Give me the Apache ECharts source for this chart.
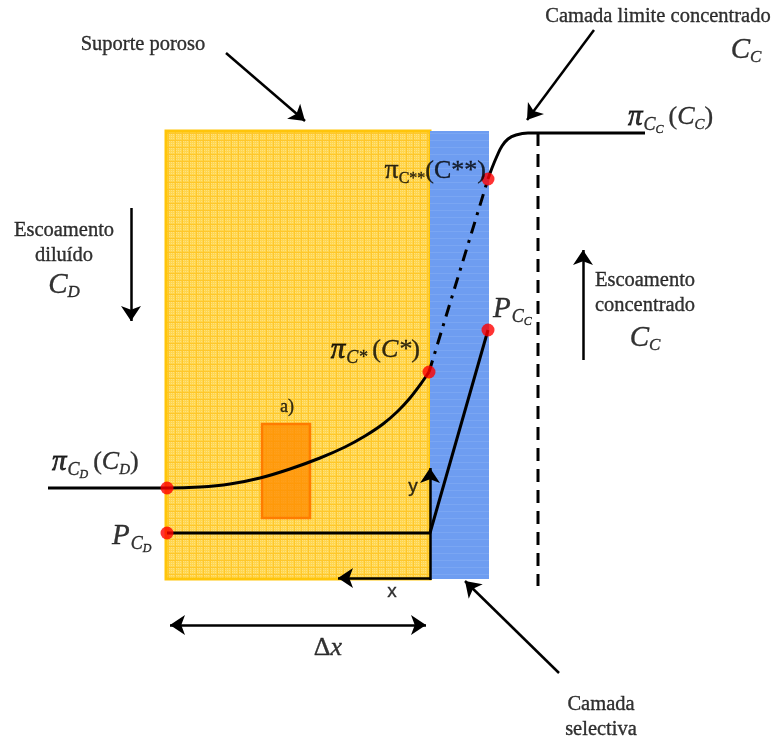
<!DOCTYPE html>
<html>
<head>
<meta charset="utf-8">
<script src="https://cdn.jsdelivr.net/npm/echarts@6/dist/echarts.min.js"></script>
<style>
  html, body { margin: 0; padding: 0; background: #ffffff; }
  #main { width: 782px; height: 742px; }
</style>
</head>
<body>
<div id="main"></div>
<script>
// Membrane layers, as [x0, y0, x1, y1] in drawing units
const supportLayer = [166, 131, 430, 579];
const selectiveLayer = [430, 131, 489, 579];
const elementA = [262, 424, 310, 518];

// Osmotic pressure on the dilute side and through the porous support
const dilutePressureProfile = [
  [48, 488], [167, 488], [200, 487], [230, 484], [260, 478], [290, 469],
  [320, 458], [345, 447], [365, 436], [383, 424], [398, 411], [410, 398],
  [420, 385], [429, 372]
];
// Across the selective layer
const selectiveDrop = [[429, 372], [488, 179]];
// Concentration boundary layer and bulk concentrate
const concentratePressureProfile = [
  [488, 179], [492, 168], [497, 156], [502, 146], [508, 139], [516, 135],
  [528, 133], [540, 133], [645, 133]
];
// Hydraulic pressure
const hydraulicProfile = [[167, 533], [430, 533], [488, 330]];
// Marked states
const statePoints = [[167, 488], [167, 533], [429, 372], [488, 179], [488, 330]];
// Edge of the boundary layer
const boundaryLayerEdge = [[538, 133], [538, 586]];

// Pointer and flow arrows
const arrows = [
  [[226, 53], [305, 121]],
  [[594, 30], [527, 120]],
  [[131, 208], [131, 321]],
  [[583, 360], [583, 250]],
  [[430, 580], [430, 468]],
  [[430, 578], [338, 578]],
  [[559, 673], [465, 581]]
];
const deltaX = [[170, 625], [426, 625]];

// Text labels: [x, y, text, align]
const labels = [
  [143, 45, '{t|Suporte poroso}', 'center'],
  [658, 17, '{t|Camada limite concentrado}', 'center'],
  [746, 50, '{ib|C}{isb|C}', 'center'],
  [628, 117, '{pi|π}{isa|C}{issa|C}{pl|(}{i|C}{is|C}{p|)}', 'left'],
  [486, 171, '{pu|π}{us|C**}{p|(C**)}', 'right'],
  [64, 243, '{t|Escoamento\ndiluído}', 'center'],
  [64, 285, '{ib|C}{isb|D}', 'center'],
  [493, 309, '{ib|P}{isa|C}{issa|C}', 'left'],
  [645, 293, '{t|Escoamento\nconcentrado}', 'center'],
  [645, 338, '{ib|C}{isb|C}', 'center'],
  [420, 350, '{pi|π}{isa|C*}{pl|(}{i|C*}{p|)}', 'right'],
  [287, 407, '{a|a)}', 'center'],
  [52, 462, '{pi|π}{isa|C}{issa|D}{pl|(}{i|C}{is|D}{p|)}', 'left'],
  [112, 536, '{ib|P}{isa|C}{issa|D}', 'left'],
  [413, 487, '{s|y}', 'center'],
  [392, 592, '{s|x}', 'center'],
  [328, 648, '{p|Δ}{i|x}', 'center'],
  [601, 717, '{t|Camada\nselectiva}', 'center']
];

const SERIF = 'Liberation Serif';
const INK = '#000000';
// Shared ink settings give the glyphs a slightly heavier stroke
function ink(style) {
  return Object.assign({ color: INK, textBorderColor: INK, textBorderWidth: 0.35 }, style);
}
const richStyles = {
  t: ink({ fontFamily: SERIF, fontSize: 20.5, lineHeight: 25 }),
  a: ink({ fontFamily: SERIF, fontSize: 18 }),
  s: ink({ fontFamily: 'Liberation Sans', fontSize: 19 }),
  pi: ink({ fontFamily: SERIF, fontStyle: 'italic', fontSize: 29, textBorderWidth: 0.8 }),
  pu: ink({ fontFamily: SERIF, fontSize: 28 }),
  p: ink({ fontFamily: SERIF, fontSize: 26 }),
  pl: ink({ fontFamily: SERIF, fontSize: 26, padding: [0, 0, 0, 5] }),
  i: ink({ fontFamily: SERIF, fontStyle: 'italic', fontSize: 26 }),
  ib: ink({ fontFamily: SERIF, fontStyle: 'italic', fontSize: 29 }),
  isa: ink({ fontFamily: SERIF, fontStyle: 'italic', fontSize: 18, padding: [16, 0, 0, 1] }),
  issa: ink({ fontFamily: SERIF, fontStyle: 'italic', fontSize: 12, padding: [26, 0, 0, 0] }),
  is: ink({ fontFamily: SERIF, fontStyle: 'italic', fontSize: 15, padding: [16, 0, 0, 0] }),
  isb: ink({ fontFamily: SERIF, fontStyle: 'italic', fontSize: 17, padding: [16, 0, 0, 0] }),
  us: ink({ fontFamily: SERIF, fontSize: 16, padding: [16, 0, 0, 0] })
};

// Fine grid textures for the two layers
function gridTexture(base, line, speck) {
  const c = document.createElement('canvas');
  c.width = 7; c.height = 7;
  const g = c.getContext('2d');
  g.fillStyle = base; g.fillRect(0, 0, 7, 7);
  if (speck) {
    g.fillStyle = speck;
    for (let i = 1; i < 7; i += 2) for (let j = 1; j < 7; j += 2) g.fillRect(i, j, 1, 1);
  }
  g.fillStyle = line;
  g.fillRect(0, 0, 7, 1);
  if (speck) g.fillRect(0, 0, 1, 7);
  return c;
}
const yellowTex = gridTexture('#FFD64F', '#FFC72A', '#FFE17F');
const blueTex = gridTexture('#6E9DF1', '#7AA6F3', null);

function rectSeries(rect, fill, stroke, lineWidth, z) {
  return {
    type: 'custom',
    z: z,
    silent: true,
    data: [rect],
    renderItem: function (params, api) {
      const p0 = api.coord([api.value(0), api.value(1)]);
      const p1 = api.coord([api.value(2), api.value(3)]);
      return {
        type: 'rect',
        shape: { x: p0[0], y: p0[1], width: p1[0] - p0[0], height: p1[1] - p0[1] },
        style: { fill: fill, stroke: stroke, lineWidth: lineWidth }
      };
    }
  };
}

function curve(data, opts) {
  return Object.assign({
    type: 'line',
    data: data,
    showSymbol: false,
    symbol: 'none',
    silent: true,
    z: 5,
    lineStyle: { color: INK, width: 3 }
  }, opts || {});
}

const chart = echarts.init(document.getElementById('main'), null, { renderer: 'canvas' });

chart.setOption({
  animation: false,
  backgroundColor: '#ffffff',
  grid: { left: 0, top: 0, right: 0, bottom: 0 },
  xAxis: { type: 'value', min: 0, max: 782, show: false },
  yAxis: { type: 'value', min: 0, max: 742, inverse: true, show: false },
  series: [
    rectSeries(supportLayer, { image: yellowTex, repeat: 'repeat' }, '#FFC50A', 3, 1),
    rectSeries(selectiveLayer, { image: blueTex, repeat: 'repeat' }, null, 0, 1),
    rectSeries(elementA, 'rgba(255,140,0,0.78)', '#FF7C00', 2.5, 2),
    curve(dilutePressureProfile, { smooth: 0.35 }),
    curve(selectiveDrop, { lineStyle: { color: INK, width: 3, type: [12, 7, 3, 7] } }),
    curve(concentratePressureProfile, { smooth: 0.4 }),
    curve(hydraulicProfile),
    curve(boundaryLayerEdge, { lineStyle: { color: INK, width: 3, type: [13, 8] } }),
    {
      type: 'lines',
      coordinateSystem: 'cartesian2d',
      silent: true,
      z: 6,
      symbol: ['none', 'arrow'],
      symbolSize: 15,
      lineStyle: { color: INK, width: 2.5, opacity: 1, curveness: 0 },
      data: arrows.map(a => ({ coords: a }))
    },
    {
      type: 'lines',
      coordinateSystem: 'cartesian2d',
      silent: true,
      z: 6,
      symbol: ['arrow', 'arrow'],
      symbolSize: 15,
      lineStyle: { color: INK, width: 2.5, opacity: 1, curveness: 0 },
      data: [{ coords: deltaX }]
    },
    {
      type: 'scatter',
      silent: true,
      z: 8,
      symbol: 'circle',
      symbolSize: 13,
      itemStyle: { color: '#FF0000' },
      data: statePoints
    },
    {
      type: 'scatter',
      silent: true,
      z: 9,
      symbolSize: 0,
      data: labels.map(l => ({
        value: [l[0], l[1]],
        label: {
          show: true,
          position: 'inside',
          align: l[3],
          verticalAlign: 'middle',
          color: INK,
          formatter: l[2],
          rich: richStyles
        }
      }))
    }
  ]
});
</script>
</body>
</html>
